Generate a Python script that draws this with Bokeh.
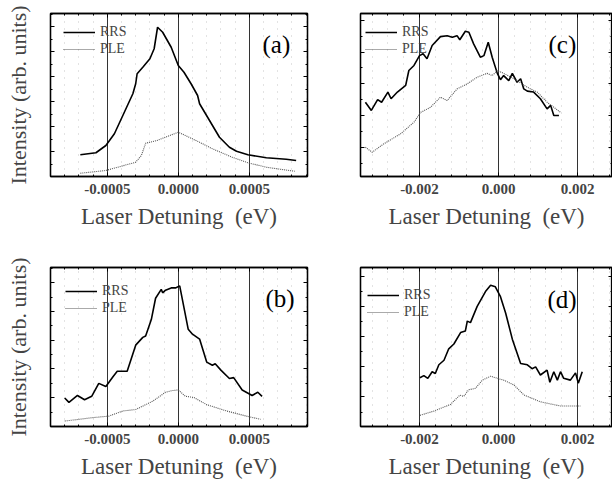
from bokeh.plotting import figure
from bokeh.layouts import column, row
from bokeh.models import (FixedTicker, NumeralTickFormatter, LinearAxis, Legend,
                          LegendItem, Label, Range1d, CustomJSTickFormatter)
from bokeh.embed import file_html
from bokeh.resources import INLINE

SERIF = "Liberation Serif"

panel_tags = ["(a)", "(b)", "(c)", "(d)"]
series_names = ["RRS", "PLE"]
x_label = "Laser Detuning\u00a0 (eV)"
y_label = "Intensity (arb. units)"

narrow_major = [-0.0005, 0.0, 0.0005]
narrow_minor = [-0.0009, -0.0008, -0.0007, -0.0006, -0.0004, -0.0003, -0.0002, -0.0001,
                0.0001, 0.0002, 0.0003, 0.0004, 0.0006, 0.0007, 0.0008, 0.0009]
wide_major = [-0.002, 0.0, 0.002]
wide_minor = [-0.0032, -0.0028, -0.0024, -0.0016, -0.0012, -0.0008, -0.0004,
              0.0004, 0.0008, 0.0012, 0.0016, 0.0024, 0.0028]

# panel (a)
a_rrs_x = [-0.00069, -0.00058, -0.00051, -0.00045, -0.00038, -0.00032, -0.00030, -0.00029,
           -0.00025, -0.00020, -0.00017, -0.000146, -0.00011, -0.00005, 0.0, 0.00004,
           0.00009, 0.000136, 0.00015, 0.00022, 0.00029, 0.00036, 0.00041, 0.00049,
           0.00062, 0.00076, 0.00083]
a_rrs_y = [0.87, 0.95, 1.24, 1.71, 2.57, 3.31, 3.71, 4.11, 4.37, 4.71, 5.11, 5.97, 5.77,
           5.17, 4.44, 4.17, 3.71, 3.24, 2.91, 2.24, 1.57, 1.17, 1.01, 0.87, 0.75, 0.69, 0.64]
a_ple_x = [-0.00069, -0.00051, -0.00030, -0.00026, -0.00023, -0.00015, -0.00006, 0.0,
           0.00005, 0.00015, 0.00024, 0.00038, 0.00049, 0.00062, 0.00082]
a_ple_y = [0.13, 0.24, 0.57, 0.84, 1.33, 1.44, 1.64, 1.77, 1.64, 1.37, 1.11, 0.77, 0.55,
           0.37, 0.21]

# panel (b)
b_rrs_x = [-0.00080, -0.00077, -0.00071, -0.00066, -0.00061, -0.00056, -0.00051, -0.00046,
           -0.00043, -0.00036, -0.00030, -0.00025, -0.00023, -0.00019, -0.00016, -0.00012,
           -0.00011, -0.00009, -0.00005, -0.00002, 0.00001, 0.00007, 0.00010, 0.00015,
           0.00020, 0.00024, 0.00026, 0.00030, 0.00036, 0.00039, 0.00045, 0.00052,
           0.00056, 0.00059]
b_rrs_y = [0.99, 0.84, 1.08, 0.93, 1.05, 1.50, 1.39, 1.73, 1.92, 1.92, 2.83, 3.10, 3.15,
           3.72, 4.46, 4.77, 4.65, 4.74, 4.82, 4.82, 4.89, 3.38, 3.21, 3.04, 2.24, 2.13,
           2.18, 1.96, 1.67, 1.70, 1.27, 1.08, 1.19, 1.05]
b_ple_x = [-0.00080, -0.00060, -0.00049, -0.00039, -0.00030, -0.00018, -0.00009, -0.00004,
           0.0, 0.00005, 0.00011, 0.00020, 0.00034, 0.00048, 0.00058]
b_ple_y = [0.19, 0.31, 0.36, 0.54, 0.59, 0.88, 1.19, 1.25, 1.27, 1.05, 1.01, 0.76, 0.54,
           0.36, 0.25]

# panel (c)
c_rrs_x = [-0.00337, -0.00322, -0.00306, -0.00296, -0.00280, -0.00272, -0.00256, -0.00235,
           -0.00227, -0.00214, -0.00200, -0.00191, -0.00181, -0.00168, -0.00147, -0.00130,
           -0.00117, -0.00105, -0.00098, -0.00084, -0.00075, -0.00063, -0.00046, -0.00037,
           -0.00026, -0.00016, -0.00003, 0.00005, 0.00013, 0.00026, 0.00035, 0.00047,
           0.00056, 0.00064, 0.00073, 0.00089, 0.00106, 0.00123, 0.00132, 0.00140, 0.00153]
c_rrs_y = [2.42, 2.16, 2.50, 2.42, 2.74, 2.53, 2.74, 2.95, 3.42, 3.58, 3.89, 3.95, 3.79,
           4.21, 4.49, 4.52, 4.47, 4.52, 4.39, 4.66, 4.63, 4.26, 3.84, 3.89, 4.31, 3.84,
           3.33, 3.13, 3.26, 3.10, 3.33, 3.05, 3.16, 2.84, 2.77, 2.74, 2.53, 2.21, 2.32,
           2.00, 2.00]
c_ple_x = [-0.00337, -0.00320, -0.00290, -0.00248, -0.00214, -0.00197, -0.00172, -0.00147,
           -0.00130, -0.00105, -0.00079, -0.00054, -0.00029, -0.00016, -0.00003, 0.00013,
           0.00039, 0.00073, 0.00098, 0.00123, 0.00140, 0.00157]
c_ple_y = [1.00, 0.84, 1.11, 1.42, 1.79, 2.10, 2.26, 2.58, 2.47, 2.84, 3.00, 3.21, 3.33,
           3.26, 3.42, 3.33, 3.16, 2.89, 2.74, 2.42, 2.26, 2.10]

# panel (d)
d_rrs_x = [-0.00199, -0.00189, -0.00179, -0.00168, -0.00160, -0.00151, -0.00138, -0.00126,
           -0.00113, -0.00096, -0.00084, -0.00079, -0.00071, -0.00054, -0.00033, -0.00020,
           -0.00008, 0.00005, 0.00018, 0.00035, 0.00056, 0.00073, 0.00085, 0.00094,
           0.00106, 0.00123, 0.00130, 0.00140, 0.00149, 0.00157, 0.00165, 0.00182,
           0.00195, 0.00202, 0.00212]
d_rrs_y = [1.64, 1.71, 1.62, 1.84, 1.78, 2.07, 2.22, 2.60, 2.76, 3.14, 3.19, 3.52, 3.47,
           4.01, 4.50, 4.71, 4.66, 4.33, 3.79, 2.92, 2.11, 2.07, 1.94, 2.00, 1.73, 1.89,
           1.49, 1.84, 1.56, 1.84, 1.62, 1.56, 1.80, 1.46, 1.84]
d_ple_x = [-0.00199, -0.00164, -0.00122, -0.00098, -0.00088, -0.00075, -0.00058, -0.00041,
           -0.00020, -0.00003, 0.00013, 0.00039, 0.00064, 0.00106, 0.00157, 0.00208]
d_ple_y = [0.39, 0.53, 0.75, 1.06, 1.02, 1.24, 1.29, 1.56, 1.69, 1.62, 1.56, 1.40, 1.07,
           0.84, 0.70, 0.70]


def style_axis(ax, show_labels):
    ax.axis_line_color = "black"
    ax.axis_line_width = 1.3
    ax.major_tick_in = 4
    ax.major_tick_out = 0
    ax.minor_tick_in = 2
    ax.minor_tick_out = 0
    ax.major_tick_line_color = "black"
    ax.minor_tick_line_color = "black"
    if not show_labels:
        ax.formatter = CustomJSTickFormatter(code="return ''")
        ax.major_label_text_font_size = "1px"
        ax.major_label_standoff = 0


def make_panel(tag, rx, ry, px, py, xr, yr, xmaj, xmin, xfmt, ymaj, ymin,
               width, height, borders, with_ylabel, legend_loc, tag_pos):
    bl, br, bt, bb = borders
    p = figure(width=width, height=height, output_backend="svg", toolbar_location=None,
               x_range=Range1d(*xr), y_range=Range1d(*yr),
               min_border_left=bl, min_border_right=br, min_border_top=bt,
               min_border_bottom=bb)
    p.outline_line_color = "black"
    p.outline_line_width = 1.3
    xt = FixedTicker(ticks=xmaj, minor_ticks=xmin)
    yt = FixedTicker(ticks=ymaj, minor_ticks=ymin)

    xa = p.xaxis[0]
    xa.ticker = xt
    style_axis(xa, True)
    xa.formatter = NumeralTickFormatter(format=xfmt)
    xa.major_label_text_font = SERIF
    xa.major_label_text_font_style = "bold"
    xa.major_label_text_font_size = "15px"
    xa.major_label_standoff = 7
    xa.axis_label = x_label
    xa.axis_label_text_font = SERIF
    xa.axis_label_text_font_style = "normal"
    xa.axis_label_text_font_size = "23px"
    xa.axis_label_standoff = 7

    ya = p.yaxis[0]
    ya.ticker = yt
    style_axis(ya, False)
    if with_ylabel:
        ya.axis_label = y_label
        ya.axis_label_text_font = SERIF
        ya.axis_label_text_font_style = "normal"
        ya.axis_label_text_font_size = "22px"
        ya.axis_label_standoff = 20

    top = LinearAxis(ticker=FixedTicker(ticks=xmaj, minor_ticks=xmin))
    style_axis(top, False)
    p.add_layout(top, "above")
    right = LinearAxis(ticker=FixedTicker(ticks=ymaj, minor_ticks=ymin))
    style_axis(right, False)
    p.add_layout(right, "right")

    p.xgrid.ticker = xt
    p.xgrid.grid_line_color = "#333333"
    p.xgrid.grid_line_width = 1
    p.xgrid.minor_grid_line_color = "#999999"
    p.xgrid.minor_grid_line_dash = "1 6"
    p.xgrid.minor_grid_line_alpha = 0.55
    p.ygrid.grid_line_color = None

    r1 = p.line(rx, ry, line_color="black", line_width=1.6)
    r2 = p.line(px, py, line_color="#555555", line_width=1.1, line_dash="1 1")

    legend = Legend(items=[LegendItem(label=series_names[0], renderers=[r1]),
                           LegendItem(label=series_names[1], renderers=[r2])],
                    location=legend_loc, background_fill_alpha=0, border_line_alpha=0,
                    padding=0, margin=0, spacing=1, glyph_width=32, glyph_height=14,
                    label_height=14, label_standoff=5, label_text_font=SERIF,
                    label_text_font_size="14px")
    p.add_layout(legend)

    p.add_layout(Label(x=tag_pos[0], y=tag_pos[1], x_units="screen", y_units="screen",
                       text=tag, text_font=SERIF, text_font_size="25px",
                       text_baseline="middle", text_align="left", text_color="black"))
    return p


half5 = [0.5, 1.5, 2.5, 3.5, 4.5, 5.5]
half6 = [0.5, 1.5, 2.5, 3.5, 4.5, 5.5, 6.5]

XN = (-0.0009, 0.00091)
XW = (-0.003494, 0.002886)

pa = make_panel(panel_tags[0], a_rrs_x, a_rrs_y, a_ple_x, a_ple_y,
                XN, (0, 6.52), narrow_major, narrow_minor, "0.0000",
                [1, 2, 3, 4, 5, 6], half6, 330, 236, (50, 23, 13, 60), True,
                (13, 119.5), (212, 132))
pb = make_panel(panel_tags[1], b_rrs_x, b_rrs_y, b_ple_x, b_ple_y,
                XN, (0, 5.53), narrow_major, narrow_minor, "0.0000",
                [1, 2, 3, 4, 5], half5, 330, 245, (50, 23, 31, 52), True,
                (15, 110.5), (215, 128))
pc = make_panel(panel_tags[2], c_rrs_x, c_rrs_y, c_ple_x, c_ple_y,
                XW, (0.075, 5.22), wide_major, wide_minor, "0.000",
                [1, 2, 3, 4, 5], half5, 282, 236, (30, 0, 13, 60), False,
                (5, 119.5), (188, 132))
pd_ = make_panel(panel_tags[3], d_rrs_x, d_rrs_y, d_ple_x, d_ple_y,
                 XW, (0.02, 5.3), wide_major, wide_minor, "0.000",
                 [1, 2, 3, 4, 5], half5, 282, 245, (30, 0, 31, 52), False,
                 (7, 106.5), (187, 127))

layout = column(row(pa, pc), row(pb, pd_))
open("out.html", "w").write(file_html(layout, INLINE))
